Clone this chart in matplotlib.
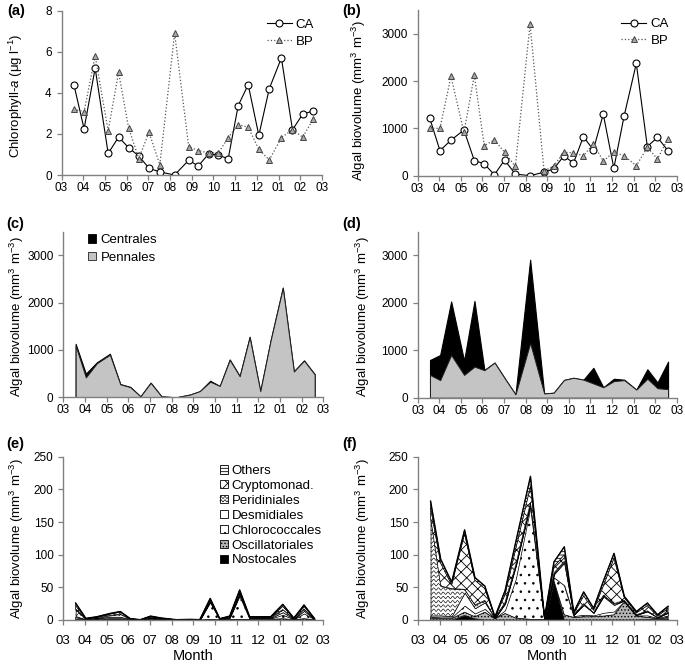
import numpy as np
import matplotlib
matplotlib.use('Agg')
import matplotlib.pyplot as plt
from matplotlib.patches import Patch, Rectangle
from matplotlib.lines import Line2D
from matplotlib.legend_handler import HandlerBase

plt.rcParams['font.family'] = ['Liberation Sans', 'DejaVu Sans']
plt.rcParams['mathtext.fontset'] = 'custom'
plt.rcParams['mathtext.rm'] = 'Liberation Sans'
plt.rcParams['mathtext.it'] = 'Liberation Sans:italic'
plt.rcParams['hatch.linewidth'] = 0.6

# ---- data ----
month_labels = ['03', '04', '05', '06', '07', '08', '09', '10', '11', '12', '01', '02', '03']
# sampling dates, in months after 1 March
t = [0.57, 1.04, 1.55, 2.15, 2.63, 3.09, 3.56, 4.03, 4.53, 5.21, 5.86, 6.30,
     6.78, 7.22, 7.68, 8.14, 8.60, 9.09, 9.57, 10.13, 10.64, 11.11, 11.60]

chla_ca = [4.4, 2.25, 5.2, 1.05, 1.85, 1.33, 0.93, 0.33, 0.15, 0.0, 0.72, 0.44,
           1.03, 0.96, 0.8, 3.38, 4.4, 1.93, 4.2, 5.7, 2.2, 2.96, 3.12]
chla_bp = [3.2, 3.08, 5.8, 2.15, 5.0, 2.3, 0.8, 2.08, 0.5, 6.9, 1.38, 1.19,
           1.07, 1.07, 1.82, 2.45, 2.33, 1.25, 0.73, 1.82, 2.21, 1.84, 2.73]

bv_ca = [1210, 530, 750, 965, 320, 250, 20, 330, 35, 0, 75, 140,
         420, 265, 825, 545, 1300, 160, 1270, 2370, 615, 810, 525]
bv_bp = [1000, 1000, 2100, 915, 2120, 635, 755, 495, 195, 3200, 100, 200,
         495, 485, 420, 670, 310, 500, 420, 210, 600, 355, 785]

ca_pennales = [1090, 420, 720, 900, 275, 215, 20, 305, 20, 0, 60, 130,
               330, 240, 790, 445, 1270, 130, 1205, 2310, 545, 775, 485]
ca_centrales = [40, 80, 20, 20, 5, 5, 0, 5, 0, 0, 0, 0,
                20, 0, 10, 5, 10, 0, 5, 10, 5, 5, 5]
bp_pennales = [480, 370, 900, 480, 655, 580, 740, 410, 70, 1150, 90, 105,
               375, 420, 380, 300, 220, 350, 370, 170, 400, 200, 180]
bp_centrales = [315, 530, 1130, 300, 1385, 5, 0, 0, 0, 1760, 0, 0,
                0, 0, 0, 330, 0, 50, 10, 0, 200, 120, 580]

groups = ['Nostocales', 'Oscillatoriales', 'Chlorococcales', 'Desmidiales',
          'Peridiniales', 'Cryptomonad.', 'Others']

ca_nostocales = [0] * 23
ca_oscill = [1, 0, 0.5, 1, 1, 0, 0, 1, 0.5, 0, 0, 0, 1, 0.5, 1, 1, 1, 1, 1, 2, 0.5, 2, 0.5]
ca_chloro = [3, 0.5, 1, 2, 2, 0.5, 0, 1, 0.5, 0, 0.5, 0, 26, 0.5, 2, 36, 1, 1, 1, 6, 0.5, 8, 0.5]
ca_desmid = [2, 0.5, 1, 2, 2, 0.5, 0, 1, 0.5, 0, 0, 0, 2, 0, 1, 3, 1, 1, 1, 4, 0.5, 4, 0]
ca_peridin = [10, 0.5, 1, 2, 4, 0.5, 0, 1, 0.5, 0, 0, 0, 1, 0.5, 1, 2, 1, 1, 1, 4, 0.5, 3, 0.5]
ca_crypto = [6, 0.5, 1, 2, 3, 0.5, 0.5, 1.5, 0.5, 0.5, 0.5, 0.5, 2, 0.5, 0.5, 3, 0.5, 0.5, 0.5, 5, 0.5, 4, 0.5]
ca_others = [4, 0.5, 0.5, 1, 1, 0, 0, 0.5, 0.5, 0, 0, 0, 1, 0, 0.5, 1, 0.5, 0.5, 0.5, 3, 0.5, 2, 0]

bp_nostocales = [0, 0, 0, 7, 2, 0, 0, 0, 0, 0, 0, 58, 0, 0, 0, 0, 0, 0, 0, 0, 1, 1, 2]
bp_oscill = [3, 2, 2, 5, 3, 12, 2, 10, 3, 1, 1, 2, 8, 4, 5, 5, 6, 8, 28, 6, 3, 1, 2]
bp_chloro = [2, 2, 2, 10, 5, 5, 1, 5, 60, 172, 1, 5, 45, 2, 3, 2, 5, 5, 1, 1, 3, 1, 3]
bp_desmid = [2, 3, 2, 20, 8, 10, 0, 10, 20, 5, 0, 5, 35, 2, 15, 4, 25, 10, 1, 1, 6, 1, 4]
bp_peridin = [150, 45, 42, 5, 5, 3, 0, 2, 2, 2, 0, 2, 2, 0, 2, 0, 2, 2, 0, 0, 1, 0, 1]
bp_crypto = [15, 35, 6, 85, 38, 18, 1, 12, 25, 25, 1, 10, 10, 2, 12, 4, 15, 70, 4, 3, 8, 2, 6]
bp_others = [10, 6, 4, 6, 4, 4, 1, 6, 10, 15, 1, 7, 12, 2, 6, 3, 7, 7, 2, 2, 4, 2, 3]

# fill colour / hatch for each group (bottom to top)
styles = {
    'Nostocales': ('black', None),
    'Oscillatoriales': ('#b4b4b4', '.....'),
    'Chlorococcales': ('white', '..'),
    'Desmidiales': ('white', None),
    'Peridiniales': ('white', 'wavy'),
    'Cryptomonad.': ('white', 'xxx'),
    'Others': ('white', '-----'),
}

W, H = 685, 666
fig = plt.figure(figsize=(W / 100, H / 100), dpi=100)


def add_ax(left, right, top, bottom):
    return fig.add_axes([left / W, 1 - bottom / H, (right - left) / W, (bottom - top) / H])


def style(ax, ymax, yticks, xsize=8.5, xpad=1.5):
    ax.set_xlim(0, 12)
    ax.set_ylim(0, ymax)
    for s in ['top', 'right']:
        ax.spines[s].set_visible(False)
    for s in ['left', 'bottom']:
        ax.spines[s].set_color('#808080')
        ax.spines[s].set_linewidth(1.0)
    ax.set_xticks(range(13))
    ax.set_xticklabels(month_labels)
    ax.set_yticks(yticks)
    ax.tick_params(color='#808080', length=3.5, width=0.9)
    ax.tick_params(axis='x', labelsize=xsize, pad=xpad)
    ax.tick_params(axis='y', labelsize=8.5, pad=3.5)


def ylab(ax, text, xpix, ypos=0.5):
    ax.set_ylabel(text, fontsize=9.5)
    # xpix: right edge of the rotated label, in figure pixels
    bb = ax.get_position()
    ax.yaxis.set_label_coords((xpix / W - bb.x0) / bb.width, ypos)


bv_label = r'Algal biovolume (mm$^3$ m$^{-3}$)'

# ---- (a) chlorophyll ----
ax = add_ax(61.5, 322, 10.7, 175)
ax.plot(t, chla_ca, '-', color='black', lw=0.8, marker='o', ms=5,
        mfc='white', mec='black', mew=0.8, label='CA')
ax.plot(t, chla_bp, ':', color='#555555', lw=0.9, marker='^', ms=5,
        mfc='#a8a8a8', mec='#444444', mew=0.7, label='BP')
style(ax, 8, [0, 2, 4, 6, 8])
ylab(ax, r'Chlorophyll-$\it{a}$ ($\mathrm{\mu}$g l$^{-1}$)', 25, 0.48)
ax.legend(loc='upper right', bbox_to_anchor=(1.0, 1.0), frameon=False, fontsize=9.5,
          handlelength=1.9, handletextpad=0.3, labelspacing=0.35, borderaxespad=0.2)

# ---- (b) biovolume ----
ax = add_ax(417.5, 676.7, 10, 175.7)
ax.plot(t, bv_ca, '-', color='black', lw=0.8, marker='o', ms=5,
        mfc='white', mec='black', mew=0.8, label='CA')
ax.plot(t, bv_bp, ':', color='#555555', lw=0.9, marker='^', ms=5,
        mfc='#a8a8a8', mec='#444444', mew=0.7, label='BP')
style(ax, 3500, [0, 1000, 2000, 3000])
ylab(ax, bv_label, 368, 0.455)
ax.legend(loc='upper right', bbox_to_anchor=(1.0, 1.0), frameon=False, fontsize=9.5,
          handlelength=1.9, handletextpad=0.3, labelspacing=0.35, borderaxespad=0.2)


# ---- (c), (d) diatoms ----
def diatoms(ax, pen, cen):
    pen = np.array(pen, float)
    tot = pen + np.array(cen, float)
    ax.fill_between(t, 0, tot, facecolor='black', edgecolor='black', lw=0.8)
    ax.fill_between(t, 0, pen, facecolor='#c4c4c4', edgecolor='#202020', lw=0.7)


ax = add_ax(63.3, 323.3, 231.7, 397.3)
diatoms(ax, ca_pennales, ca_centrales)
style(ax, 3500, [0, 1000, 2000, 3000])
ylab(ax, bv_label, 26, 0.49)
hc = [Patch(facecolor='black', edgecolor='black', lw=0.6),
      Patch(facecolor='#c4c4c4', edgecolor='#202020', lw=0.6)]
ax.legend(hc, ['Centrales', 'Pennales'], loc='upper left',
          bbox_to_anchor=((88 - 63.3) / 260, (397.3 - 234) / 165.6),
          frameon=False, fontsize=9.5, handlelength=0.6, handleheight=0.6,
          handletextpad=0.35, labelspacing=0.45, borderaxespad=0, borderpad=0)

ax = add_ax(417.7, 676.7, 231.7, 397.7)
diatoms(ax, bp_pennales, bp_centrales)
style(ax, 3500, [0, 1000, 2000, 3000])
ylab(ax, bv_label, 372, 0.49)


# ---- (e), (f) other groups ----
class WavyHandler(HandlerBase):
    def create_artists(self, legend, orig_handle, xdescent, ydescent,
                       width, height, fontsize, trans):
        x0, y0 = -xdescent, -ydescent
        box = Rectangle((x0, y0), width, height, facecolor='white',
                        edgecolor='black', lw=0.6, transform=trans)
        arts = [box]
        xs = np.linspace(x0, x0 + width, 40)
        for f in (0.3, 0.7):
            ys = y0 + f * height + 0.12 * height * np.sin((xs - x0) / width * 4 * np.pi)
            arts.append(Line2D(xs, ys, color='black', lw=0.5, transform=trans))
        return arts


def stacked(ax, series):
    base = np.zeros(len(t))
    wx = np.linspace(0, 12, 3000)
    for name, vals in zip(groups, series):
        top = base + np.array(vals, float)
        fc, hatch = styles[name]
        if hatch == 'wavy':
            poly = ax.fill_between(t, base, top, facecolor=fc, edgecolor='black', lw=0.5)
            path = poly.get_paths()[0]
            for y0 in np.arange(2, 250, 6.5):
                ln, = ax.plot(wx, y0 + 1.8 * np.sin(2 * np.pi * wx / 0.22),
                              color='black', lw=0.45)
                ln.set_clip_path(path, ax.transData)
        else:
            ax.fill_between(t, base, top, facecolor=fc, edgecolor='black',
                            lw=0.5, hatch=hatch)
        base = top
    ax.plot(t, base, color='black', lw=1.0)


ax = add_ax(63.3, 323.3, 456.7, 620)
stacked(ax, [ca_nostocales, ca_oscill, ca_chloro, ca_desmid, ca_peridin, ca_crypto, ca_others])
style(ax, 250, [0, 50, 100, 150, 200, 250], xsize=9.5, xpad=7)
ylab(ax, bv_label, 26, 0.5)
ax.set_xlabel('Month', fontsize=10.5, labelpad=2)

handles = []
hmap = {}
for name in groups[::-1]:
    fc, hatch = styles[name]
    h = Patch(facecolor=fc, edgecolor='black', lw=0.6,
              hatch=None if hatch == 'wavy' else hatch)
    if hatch == 'wavy':
        hmap[h] = WavyHandler()
    handles.append(h)
ax.legend(handles, groups[::-1], handler_map=hmap, loc='upper left',
          bbox_to_anchor=((220 - 63.3) / 260, (620 - 465) / 163.3),
          frameon=False, fontsize=9.5, handlelength=0.6, handleheight=0.6,
          handletextpad=0.3, labelspacing=0.22, borderaxespad=0, borderpad=0)

ax = add_ax(418.3, 676.7, 456.7, 620)
stacked(ax, [bp_nostocales, bp_oscill, bp_chloro, bp_desmid, bp_peridin, bp_crypto, bp_others])
style(ax, 250, [0, 50, 100, 150, 200, 250], xsize=9.5, xpad=7)
ylab(ax, bv_label, 372, 0.5)
ax.set_xlabel('Month', fontsize=10.5, labelpad=2)

# panel letters
for lab, x, y in [('(a)', 7, 11), ('(b)', 342, 11), ('(c)', 6, 224),
                  ('(d)', 342, 224), ('(e)', 6, 444), ('(f)', 342, 444)]:
    fig.text(x / W, 1 - y / H, lab, fontsize=10.5, fontweight='bold', va='center', ha='left')

fig.savefig('out.png', dpi=100)
